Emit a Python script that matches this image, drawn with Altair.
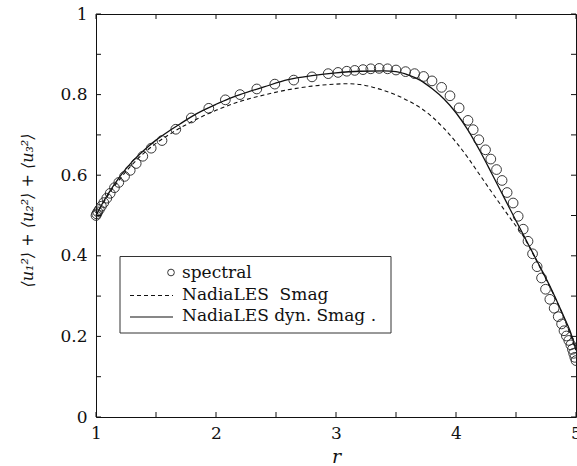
import altair as alt
import pandas as pd

# ---- data ----
spec_r = [1.000, 1.006, 1.015, 1.028, 1.045, 1.065, 1.09, 1.118, 1.154, 1.19,
          1.238, 1.285, 1.335, 1.39, 1.46, 1.55, 1.665, 1.794, 1.94, 2.078,
          2.2, 2.34, 2.49, 2.648, 2.80, 2.935, 3.017, 3.09, 3.156, 3.225,
          3.29, 3.36, 3.43, 3.50, 3.58, 3.655, 3.73, 3.80, 3.88, 3.95,
          4.026, 4.10, 4.143, 4.19, 4.246, 4.29, 4.338, 4.384, 4.426, 4.476,
          4.518, 4.56, 4.60, 4.638, 4.676, 4.713, 4.746, 4.782, 4.818, 4.852,
          4.88, 4.90, 4.92, 4.94, 4.957, 4.97, 4.98, 4.99, 5.0]
spec_q = [0.500, 0.504, 0.509, 0.515, 0.523, 0.532, 0.543, 0.555, 0.569, 0.582,
          0.597, 0.612, 0.629, 0.647, 0.667, 0.686, 0.714, 0.742, 0.766, 0.787,
          0.800, 0.814, 0.826, 0.836, 0.844, 0.852, 0.855, 0.858, 0.860, 0.862,
          0.864, 0.865, 0.864, 0.861, 0.857, 0.852, 0.845, 0.834, 0.818, 0.797,
          0.767, 0.736, 0.713, 0.688, 0.663, 0.640, 0.614, 0.587, 0.557, 0.531,
          0.498, 0.466, 0.436, 0.405, 0.373, 0.345, 0.317, 0.292, 0.270, 0.249,
          0.231, 0.214, 0.201, 0.190, 0.179, 0.168, 0.158, 0.148, 0.140]

smag_r = [1.0, 1.05, 1.1, 1.2, 1.3, 1.4, 1.5, 1.6, 1.7, 1.8, 1.9, 2.0, 2.2, 2.4,
          2.6, 2.8, 3.0, 3.1, 3.2, 3.3, 3.4, 3.5, 3.6, 3.7, 3.8, 3.9, 4.0, 4.1,
          4.2, 4.3, 4.4, 4.5, 4.55, 4.6, 4.7, 4.8, 4.9, 5.0]
smag_q = [0.500, 0.526, 0.550, 0.591, 0.626, 0.655, 0.679, 0.699, 0.717, 0.733,
          0.748, 0.761, 0.783, 0.799, 0.812, 0.821, 0.826, 0.827, 0.825, 0.819,
          0.810, 0.799, 0.785, 0.768, 0.745, 0.716, 0.682, 0.643, 0.600, 0.557,
          0.515, 0.474, 0.454, 0.428, 0.371, 0.312, 0.246, 0.166]

dyn_r = [1.0, 1.05, 1.1, 1.2, 1.3, 1.4, 1.5, 1.6, 1.7, 1.8, 1.9, 2.0, 2.1, 2.2,
         2.4, 2.6, 2.8, 3.0, 3.2, 3.4, 3.5, 3.6, 3.7, 3.8, 3.9, 4.0, 4.1, 4.2,
         4.3, 4.4, 4.5, 4.6, 4.7, 4.8, 4.9, 4.95, 5.0]
dyn_q = [0.500, 0.528, 0.553, 0.597, 0.633, 0.662, 0.687, 0.708, 0.727, 0.746,
         0.762, 0.776, 0.789, 0.800, 0.819, 0.837, 0.847, 0.854, 0.858, 0.859,
         0.857, 0.849, 0.836, 0.815, 0.789, 0.755, 0.712, 0.660, 0.603, 0.545,
         0.487, 0.430, 0.373, 0.314, 0.248, 0.214, 0.166]

x_tick_vals = [1, 1.5, 2, 2.5, 3, 3.5, 4, 4.5, 5]
y_tick_vals = [0, 0.1, 0.2, 0.3, 0.4, 0.5, 0.6, 0.7, 0.8, 0.9, 1.0]
x_label_vals = [1, 2, 3, 4, 5]
y_label_vals = [0, 0.2, 0.4, 0.6, 0.8, 1]
legend_labels = ["spectral", "NadiaLES\u00a0 Smag", "NadiaLES dyn. Smag ."]
x_title = "r"
y_title = "\u27e8u\u2081\u00b2\u27e9 + \u27e8u\u2082\u00b2\u27e9 + \u27e8u\u2083\u00b2\u27e9"

# ---- styling / layout ----
W, H = 480, 403
FONT = "DejaVu Serif"
INK = "#111111"
TICK = 5

x_scale = alt.Scale(domain=[1, 5], nice=False, zero=False)
y_scale = alt.Scale(domain=[0, 1], nice=False, zero=False)

x_axis = alt.Axis(values=x_label_vals, format="~g", title=x_title, ticks=False,
                  domain=False, grid=False, labelFlush=False, labelOverlap=False,
                  labelFont=FONT, labelFontSize=17, labelColor=INK, labelPadding=8,
                  titleFont=FONT, titleFontSize=19, titleFontStyle="italic",
                  titleFontWeight="normal", titleColor=INK, titleX=W / 2, titleY=39,
                  titleBaseline="middle", titleAlign="center")
y_axis = alt.Axis(values=y_label_vals, format="~g", title=y_title, ticks=False,
                  domain=False, grid=False, labelFlush=False, labelOverlap=False,
                  labelFont=FONT, labelFontSize=17, labelColor=INK, labelPadding=9,
                  titleFont=FONT, titleFontSize=16, titleFontStyle="italic",
                  titleFontWeight="normal", titleColor=INK, titleX=-69, titleY=196,
                  titleBaseline="middle", titleAlign="center", titleAngle=270)


def X(field):
    return alt.X(f"{field}:Q", scale=x_scale, axis=x_axis)


def Y(field):
    return alt.Y(f"{field}:Q", scale=y_scale, axis=y_axis)


spec_df = pd.DataFrame({"r": spec_r, "q": spec_q})
smag_df = pd.DataFrame({"r": smag_r, "q": smag_q})
dyn_df = pd.DataFrame({"r": dyn_r, "q": dyn_q})
xt_df = pd.DataFrame({"v": x_tick_vals})
yt_df = pd.DataFrame({"v": y_tick_vals})
one = pd.DataFrame({"a": [0]})

smag_line = alt.Chart(smag_df).mark_line(color=INK, strokeWidth=1.1, strokeDash=[4, 3],
                                         interpolate="monotone").encode(x=X("r"), y=Y("q"))
dyn_line = alt.Chart(dyn_df).mark_line(color=INK, strokeWidth=1.3,
                                       interpolate="monotone").encode(x=X("r"), y=Y("q"))
spec_pts = alt.Chart(spec_df).mark_point(shape="circle", filled=False, size=95, stroke="#222",
                                         strokeWidth=0.9, opacity=1).encode(x=X("r"), y=Y("q"))

tick_style = dict(color=INK, strokeWidth=1)
xt_bottom = alt.Chart(xt_df).mark_rule(**tick_style).encode(
    x=X("v"), y=alt.value(H), y2=alt.value(H - TICK))
xt_top = alt.Chart(xt_df).mark_rule(**tick_style).encode(
    x=X("v"), y=alt.value(0), y2=alt.value(TICK))
yt_left = alt.Chart(yt_df).mark_rule(**tick_style).encode(
    y=Y("v"), x=alt.value(0), x2=alt.value(TICK))
yt_right = alt.Chart(yt_df).mark_rule(**tick_style).encode(
    y=Y("v"), x=alt.value(W), x2=alt.value(W - TICK))

# ---- legend box ----
LX0, LX1, LY0, LY1 = 24, 295, 242.5, 319
box = alt.Chart(one).mark_rect(fill="white", stroke="#333", strokeWidth=1).encode(
    x=alt.value(LX0), x2=alt.value(LX1), y=alt.value(LY0), y2=alt.value(LY1))
row_y = [258.5, 280.5, 302]
TX = 86
leg_pt = alt.Chart(one).mark_point(shape="circle", filled=False, size=45, stroke="#222",
                                   strokeWidth=0.9, opacity=1).encode(
    x=alt.value(75), y=alt.value(row_y[0]))
leg_dash = alt.Chart(one).mark_rule(color=INK, strokeWidth=1, strokeDash=[4, 3]).encode(
    x=alt.value(34), x2=alt.value(77), y=alt.value(row_y[1] + 1))
leg_solid = alt.Chart(one).mark_rule(color=INK, strokeWidth=1.2).encode(
    x=alt.value(34), x2=alt.value(77), y=alt.value(row_y[2] + 1))
leg_texts = [
    alt.Chart(one).mark_text(text=lbl, font=FONT, fontSize=17, color=INK, align="left",
                             baseline="middle").encode(x=alt.value(TX), y=alt.value(yy))
    for lbl, yy in zip(legend_labels, row_y)
]

chart = alt.layer(
    smag_line, dyn_line, spec_pts, xt_bottom, xt_top, yt_left, yt_right,
    box, leg_pt, leg_dash, leg_solid, *leg_texts
).properties(
    width=W, height=H,
    padding={"left": 96, "top": 14, "right": 1, "bottom": 49},
    autosize=alt.AutoSizeParams(type="none"),
    background="white",
).configure_view(stroke=INK, strokeWidth=1)

chart.save("out.html", embed_options={"renderer": "svg", "actions": False})
